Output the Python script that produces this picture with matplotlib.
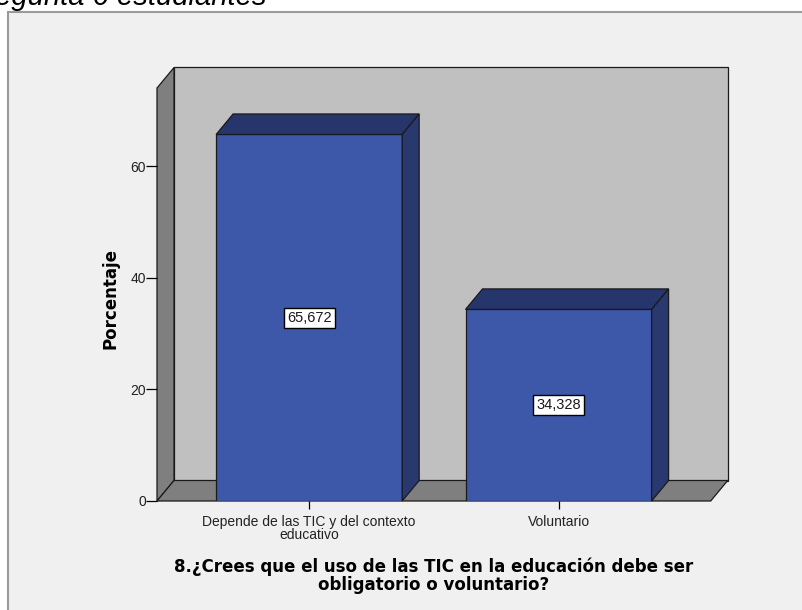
import numpy as np
import matplotlib.pyplot as plt
from matplotlib.patches import Polygon, Rectangle

plt.rcParams['font.family'] = ['Liberation Sans', 'DejaVu Sans']

categorias = ['Depende de las TIC y del contexto\neducativo', 'Voluntario']
porcentajes = [65.672, 34.328]
etiquetas = ['65,672', '34,328']
yticks = [0, 20, 40, 60]
titulo_eje_x = '8.¿Crees que el uso de las TIC en la educación debe ser\nobligatorio o voluntario?'

W, H = 803, 610
fig = plt.figure(figsize=(W / 100, H / 100), dpi=100)
fig.patch.set_facecolor('white')

# marco gris claro del visor de resultados
fig.patches.append(Rectangle((8 / W, -0.1), 1.0, (H - 12) / H + 0.1,
                             transform=fig.transFigure, facecolor='#f0f0f0',
                             edgecolor='#9a9a9a', linewidth=1.5, zorder=-5))
fig.text(267 / W, (H - 5) / H, 'Pregunta 6 estudiantes', ha='right', va='baseline',
         fontsize=21, style='italic', color='black', zorder=-4)

ax = fig.add_axes([157 / W, 109 / H, 553.7 / W, 413 / H])
ax.set_zorder(2)
ax.set_xlim(-0.61, 1.61)
ax.set_ylim(0, 74)
ax.patch.set_visible(False)
for s in ax.spines.values():
    s.set_visible(False)

x0, x1 = ax.get_xlim()
y0, y1 = ax.get_ylim()
dx = 17 * (x1 - x0) / 553.7
dy = 20.5 * (y1 - y0) / 413

lw = 0.9
ec = '#1a1a1a'
# pared del fondo, pared izquierda y suelo
ax.add_patch(Polygon([(x0 + dx, y0 + dy), (x1 + dx, y0 + dy), (x1 + dx, y1 + dy),
                      (x0 + dx, y1 + dy)], closed=True, facecolor='#c0c0c0',
                     edgecolor=ec, lw=lw, clip_on=False, zorder=1))
ax.add_patch(Polygon([(x0, y0), (x0, y1), (x0 + dx, y1 + dy), (x0 + dx, y0 + dy)],
                     closed=True, facecolor='#7f7f7f', edgecolor=ec, lw=lw,
                     clip_on=False, zorder=1))
ax.add_patch(Polygon([(x0, y0), (x1, y0), (x1 + dx, y0 + dy), (x0 + dx, y0 + dy)],
                     closed=True, facecolor='#7f7f7f', edgecolor=ec, lw=lw,
                     clip_on=False, zorder=1))

pos = np.arange(len(categorias))
ancho = 0.746
ax.bar(pos, porcentajes, width=ancho, color='#3e58a9', edgecolor=ec, linewidth=lw, zorder=3)
for p, v, t in zip(pos, porcentajes, etiquetas):
    l, r = p - ancho / 2, p + ancho / 2
    ax.add_patch(Polygon([(l, v), (r, v), (r + dx, v + dy), (l + dx, v + dy)], closed=True,
                         facecolor='#26356b', edgecolor=ec, lw=lw, clip_on=False, zorder=3))
    ax.add_patch(Polygon([(r, 0), (r, v), (r + dx, v + dy), (r + dx, dy)], closed=True,
                         facecolor='#29386f', edgecolor=ec, lw=lw, clip_on=False, zorder=3))
    ax.text(p, v / 2, t, ha='center', va='center', fontsize=10.5, color='#1a1a1a', zorder=5,
            bbox=dict(boxstyle='square,pad=0.22', facecolor='white', edgecolor='black', lw=1))

ax.set_yticks(yticks)
ax.set_xticks(pos)
ax.set_xticklabels(categorias, fontsize=10, color='#222222', linespacing=0.9)
ax.tick_params(axis='y', direction='out', length=8, width=0.9, labelsize=10,
               pad=0, labelcolor='#222222', color='black')
ax.tick_params(axis='x', direction='out', length=6, width=0.9, pad=4, color='black')

ax.set_ylabel('Porcentaje', fontsize=12, fontweight='bold', family='DejaVu Sans')
ax.yaxis.set_label_coords(-37 / 553.7, 0.49)
ax.set_xlabel(titulo_eje_x, fontsize=12, fontweight='bold', family='DejaVu Sans',
              linespacing=1.0, labelpad=11)

fig.savefig('out.png', dpi=100)
